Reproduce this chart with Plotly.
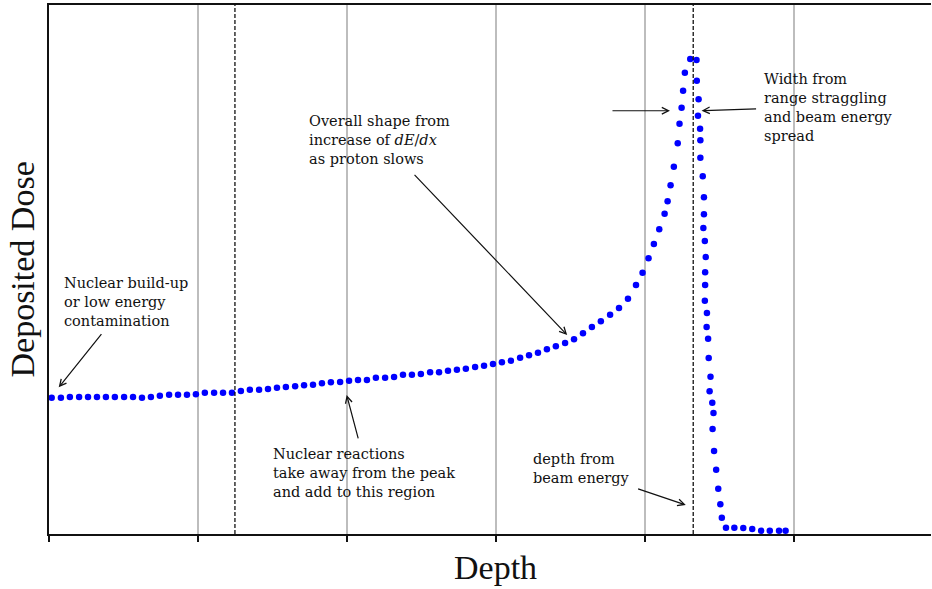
import plotly.graph_objects as go

# ---- data (depth in cm, dose relative to entrance) ----
depth = [0.09, 0.40, 0.70, 1.01, 1.31, 1.61, 1.91, 2.21, 2.52, 2.82,
         3.12, 3.42, 3.72, 4.03, 4.33, 4.63, 4.93, 5.23, 5.54, 5.84,
         6.14, 6.44, 6.74, 7.05, 7.35, 7.65, 7.95, 8.26, 8.56, 8.86,
         9.16, 9.46, 9.77, 10.07, 10.37, 10.67, 10.97, 11.28, 11.58, 11.88,
         12.18, 12.48, 12.79, 13.09, 13.39, 13.69, 13.99, 14.30, 14.60, 14.90,
         15.20, 15.50, 15.81, 16.11, 16.41, 16.71, 17.01, 17.32, 17.62, 17.92,
         18.22, 18.52, 18.83, 19.13, 19.43, 19.70, 19.92, 20.12, 20.30, 20.48,
         20.66, 20.76, 20.86, 20.97, 21.10, 21.16, 21.23, 21.28, 21.34, 21.52,
         21.73, 21.74, 21.80, 21.78, 21.85, 21.86, 21.86, 21.94, 21.98, 21.98,
         21.96, 22.01, 22.04, 22.02, 22.02, 22.01, 22.08, 22.07, 22.12, 22.14,
         22.20, 22.17, 22.26, 22.30, 22.27, 22.32, 22.39, 22.46, 22.53, 22.58,
         22.72, 23.00, 23.30, 23.60, 23.90, 24.19, 24.50, 24.72]

dose = [1.000, 1.000, 1.005, 1.005, 1.005, 1.005, 1.005, 1.005, 1.005, 1.005,
        1.000, 1.005, 1.015, 1.022, 1.022, 1.022, 1.025, 1.037, 1.037, 1.037,
        1.037, 1.049, 1.059, 1.059, 1.064, 1.073, 1.079, 1.084, 1.091, 1.095,
        1.106, 1.113, 1.115, 1.125, 1.130, 1.130, 1.147, 1.147, 1.152, 1.169,
        1.169, 1.174, 1.186, 1.186, 1.198, 1.205, 1.213, 1.225, 1.235, 1.247,
        1.260, 1.271, 1.293, 1.311, 1.330, 1.355, 1.377, 1.401, 1.428, 1.472,
        1.519, 1.561, 1.609, 1.658, 1.726, 1.827, 1.917, 2.023, 2.128, 2.236,
        2.350, 2.441, 2.558, 2.695, 2.866, 3.010, 3.128, 3.252, 3.384, 3.485,
        3.478, 3.326, 3.189, 3.069, 2.974, 2.888, 2.761, 2.624, 2.470, 2.346,
        2.245, 2.150, 2.032, 1.920, 1.827, 1.712, 1.621, 1.519, 1.433, 1.291,
        1.154, 1.047, 0.963, 0.888, 0.770, 0.609, 0.472, 0.332, 0.218, 0.120,
        0.046, 0.046, 0.044, 0.037, 0.024, 0.024, 0.024, 0.024]

x_ticks = [0, 5, 10, 15, 20, 25]
marker_depths = [6.24, 21.62]   # dashed vertical reference lines
x_range = [0, 29.6]
y_range = [0, 3.881]

TITLE_FONT = "Liberation Serif"
NOTE_FONT = "DejaVu Serif"

fig = go.Figure()
fig.add_trace(go.Scatter(
    x=depth, y=dose, mode="markers",
    marker=dict(color="#0000ff", size=6.5, line=dict(width=0)),
    showlegend=False, cliponaxis=False,
))

for xv in marker_depths:
    fig.add_shape(type="line", xref="x", yref="paper", x0=xv, x1=xv, y0=0, y1=1,
                  line=dict(color="#111111", width=1.3, dash="4px,2px"))


def text_block(lines, x, y_top):
    fig.add_annotation(x=x, y=y_top, xref="x", yref="y", text="<br>".join(lines),
                       showarrow=False, align="left", xanchor="left", yanchor="top",
                       font=dict(family=NOTE_FONT, size=14.5, color="#111111"))


def arrow(xh, yh, xt, yt):
    fig.add_annotation(x=xh, y=yh, ax=xt, ay=yt, xref="x", yref="y", axref="x", ayref="y",
                       text="", showarrow=True, arrowhead=5, arrowsize=1.1,
                       arrowwidth=1.2, arrowcolor="#111111", standoff=0)


text_block(["Nuclear build-up", "or low energy", "contamination"], 0.436, 1.916)
text_block(["Overall shape from", "increase of <i>dE</i>/<i>dx</i>", "as proton slows"], 8.668, 3.100)
text_block(["Nuclear reactions", "take away from the peak", "and add to this region"], 7.44, 0.659)
text_block(["Width from", "range straggling", "and beam energy", "spread"], 23.93, 3.413)
text_block(["depth from", "beam energy"], 16.18, 0.625)

arrow(0.326, 1.076, 1.80, 1.477)
arrow(17.39, 1.460, 12.22, 2.646)
arrow(9.99, 1.020, 10.39, 0.690)
arrow(20.84, 3.105, 18.86, 3.105)
arrow(21.90, 3.106, 23.78, 3.120)
arrow(21.37, 0.213, 19.72, 0.335)

# axis titles
fig.add_annotation(x=15, y=-0.0624, xref="x", yref="paper", text="Depth", showarrow=False,
                   xanchor="center", yanchor="middle",
                   font=dict(family=TITLE_FONT, size=34, color="#111111"))
fig.add_annotation(x=-0.0306, y=0.5, xref="paper", yref="paper", text="Deposited Dose",
                   showarrow=False, textangle=-90, xanchor="center", yanchor="middle",
                   font=dict(family=TITLE_FONT, size=34, color="#111111"))

fig.update_xaxes(range=x_range, tickvals=x_ticks, showticklabels=False,
                 ticks="outside", ticklen=6, tickwidth=1.5, tickcolor="#111111",
                 showgrid=True, gridcolor="#bdbdbd", gridwidth=1.5,
                 showline=True, linecolor="#111111", linewidth=1.5, mirror=True,
                 zeroline=False)
fig.update_yaxes(range=y_range, showticklabels=False, ticks="", showgrid=False,
                 showline=True, linecolor="#111111", linewidth=1.5, zeroline=False)

fig.update_layout(width=932, height=589, margin=dict(l=49, r=1, t=5, b=55),
                  paper_bgcolor="white", plot_bgcolor="white")

fig.write_html("out.html")
